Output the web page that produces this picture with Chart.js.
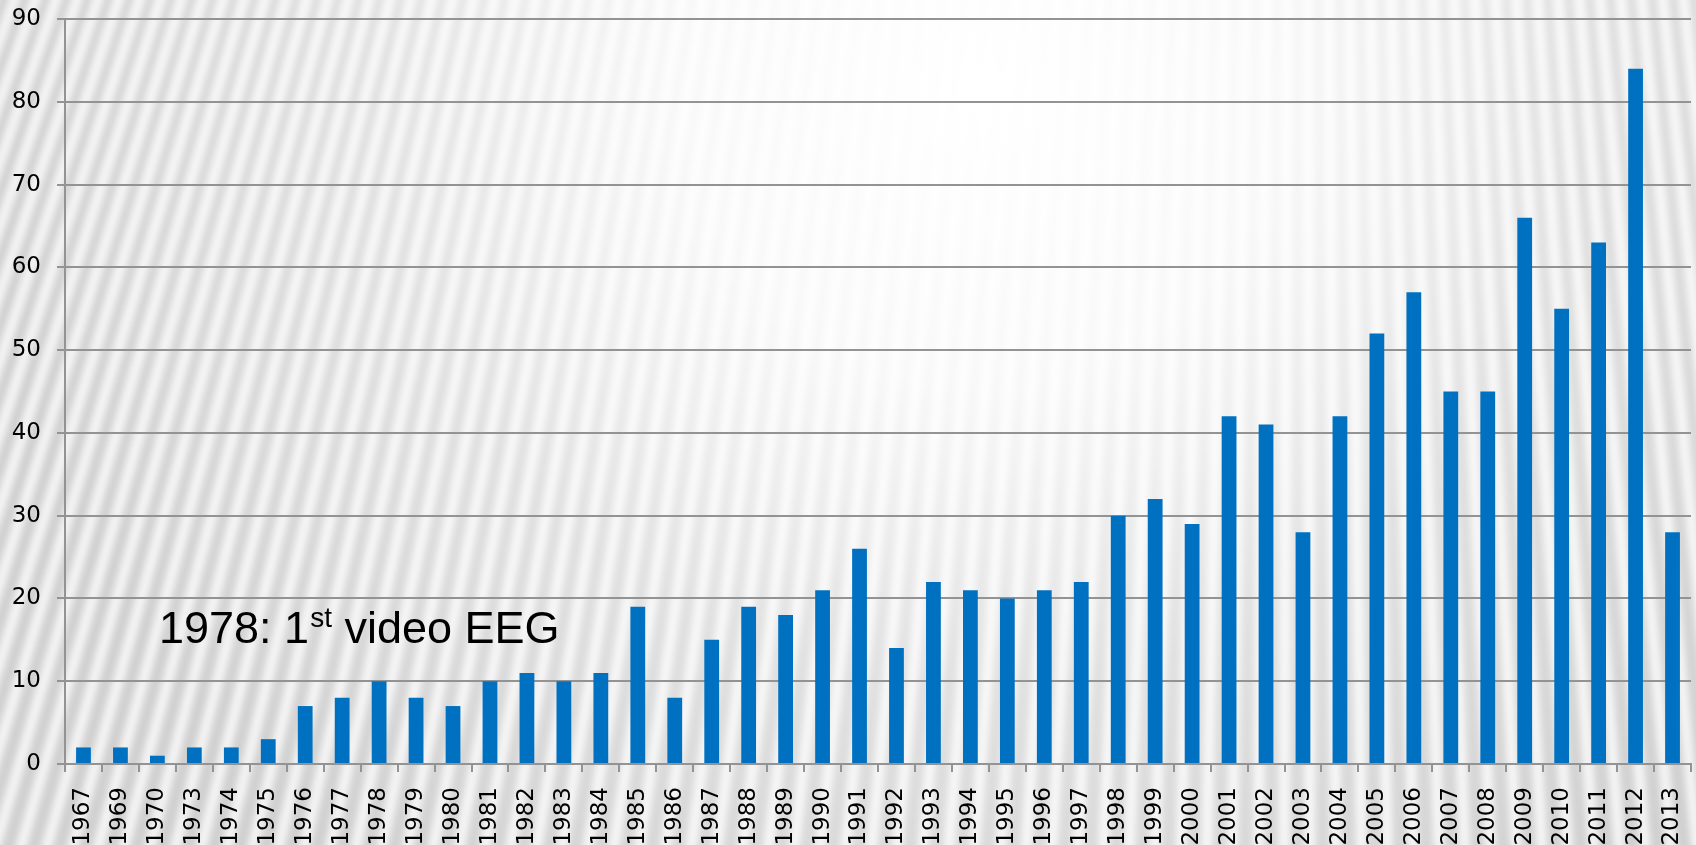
<!DOCTYPE html>
<html>
<head>
<meta charset="utf-8">
<script src="https://cdn.jsdelivr.net/npm/chart.js@4"></script>
<style>
  html, body { margin: 0; padding: 0; background: #dcdcdc; }
  #wrap { width: 1696px; height: 845px; position: relative; }
</style>
</head>
<body>
<div id="wrap"><canvas id="eeg-chart"></canvas></div>
<script>
// publications per year
const years = ['1967','1969','1970','1973','1974','1975','1976','1977','1978','1979',
  '1980','1981','1982','1983','1984','1985','1986','1987','1988','1989',
  '1990','1991','1992','1993','1994','1995','1996','1997','1998','1999',
  '2000','2001','2002','2003','2004','2005','2006','2007','2008','2009',
  '2010','2011','2012','2013'];
const counts = [2, 2, 1, 2, 2, 3, 7, 8, 10, 8,
  7, 10, 11, 10, 11, 19, 8, 15, 19, 18,
  21, 26, 14, 22, 21, 20, 21, 22, 30, 32,
  29, 42, 41, 28, 42, 52, 57, 45, 45, 66,
  55, 63, 84, 28];
const yTicks = [0, 10, 20, 30, 40, 50, 60, 70, 80, 90];
const noteMain = '1978: 1';
const noteSup = 'st';
const noteRest = ' video EEG';

const gridGrey = '#939393';
const labelFont = { family: '"DejaVu Sans", Verdana, sans-serif', size: 23 };

// striped grey slide background with a bright glow at the top
const backdrop = {
  id: 'backdrop',
  beforeDraw(chart) {
    const ctx = chart.ctx;
    const w = chart.width, h = chart.height;
    ctx.save();
    ctx.fillStyle = '#d1d1d1';
    ctx.fillRect(0, 0, w, h);

    // fan of soft stripes converging far above the page
    ctx.filter = 'blur(3px)';
    const vx = 1300, vy = -3600;
    for (let x = -900; x < w + 600; x += 26) {
      ctx.beginPath();
      ctx.moveTo(vx, vy);
      ctx.lineTo(x, h + 40);
      ctx.strokeStyle = 'rgba(255,255,255,0.75)';
      ctx.lineWidth = 11;
      ctx.stroke();
    }
    ctx.filter = 'none';

    let g = ctx.createRadialGradient(980, 90, 0, 980, 90, 1000);
    g.addColorStop(0, 'rgba(255,255,255,1)');
    g.addColorStop(0.3, 'rgba(255,255,255,0.85)');
    g.addColorStop(0.6, 'rgba(255,255,255,0.35)');
    g.addColorStop(1, 'rgba(255,255,255,0)');
    ctx.fillStyle = g;
    ctx.fillRect(0, 0, w, h);
    ctx.restore();
  }
};

// "1978: 1st video EEG" note
const note = {
  id: 'note',
  afterDraw(chart) {
    const ctx = chart.ctx;
    const area = chart.chartArea;
    let x = area.left + 94;
    const y = chart.scales.y.getPixelForValue(0) - 121;
    ctx.save();
    ctx.fillStyle = '#000';
    ctx.textBaseline = 'alphabetic';
    ctx.font = '45px "Liberation Sans", Arial, sans-serif';
    ctx.fillText(noteMain, x, y);
    x += ctx.measureText(noteMain).width + 1;
    ctx.font = '28px "Liberation Sans", Arial, sans-serif';
    ctx.fillText(noteSup, x, y - 16);
    x += ctx.measureText(noteSup).width;
    ctx.font = '45px "Liberation Sans", Arial, sans-serif';
    ctx.fillText(noteRest, x, y);
    ctx.restore();
  }
};

new Chart(document.getElementById('eeg-chart'), {
  type: 'bar',
  data: {
    labels: years,
    datasets: [{
      data: counts,
      backgroundColor: '#0070c0',
      borderWidth: 0,
      categoryPercentage: 1,
      barPercentage: 0.4
    }]
  },
  options: {
    responsive: true,
    maintainAspectRatio: false,
    animation: false,
    layout: { padding: { top: 19, right: 5, left: 0, bottom: 0 } },
    plugins: {
      legend: { display: false },
      tooltip: { enabled: false }
    },
    scales: {
      x: {
        grid: {
          display: true,
          drawOnChartArea: false,
          color: gridGrey,
          lineWidth: 2,
          tickLength: 8
        },
        border: { color: gridGrey, width: 2 },
        ticks: {
          color: '#000',
          font: labelFont,
          minRotation: 90,
          maxRotation: 90,
          autoSkip: false,
          padding: 15
        },
        afterFit(scale) {
          scale.height = 81;
          scale.paddingLeft = 0;
          scale.paddingRight = 0;
        }
      },
      y: {
        min: 0,
        max: 90,
        afterBuildTicks(scale) { scale.ticks = yTicks.map(v => ({ value: v })); },
        grid: {
          color: gridGrey,
          lineWidth: 2,
          tickLength: 8
        },
        border: { color: gridGrey, width: 2 },
        ticks: {
          color: '#000',
          font: labelFont,
          padding: 16
        },
        afterFit(scale) {
          scale.width = 65;
          scale.paddingTop = 0;
          scale.paddingBottom = 0;
        }
      }
    }
  },
  plugins: [backdrop, note]
});
</script>
</body>
</html>
